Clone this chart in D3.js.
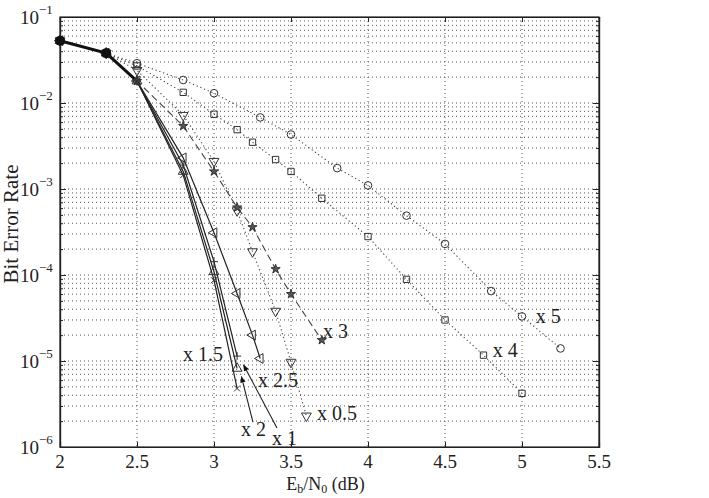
<!DOCTYPE html>
<html>
<head>
<meta charset="utf-8">
<script src="https://cdn.jsdelivr.net/npm/d3@7"></script>
<style>
  body { margin: 0; background: #fff; }
  svg { font-family: "Liberation Serif", "Times New Roman", serif; }
</style>
</head>
<body>
<svg id="chart" width="709" height="498"></svg>
<script>
// Eb/N0 (dB) and bit error rate for each clipping ratio
var x05 = [2, 2.3, 2.5, 2.8, 3.0, 3.15, 3.25, 3.4, 3.5, 3.6]
  , ber05 = [0.053, 0.038, 0.024, 0.0072, 0.0021, 5.6e-4, 1.87e-4, 3.8e-5, 9.7e-6, 2.3e-6]
var x1 = [2, 2.3, 2.5, 2.8, 3.0, 3.15]
  , ber1 = [0.053, 0.038, 0.018, 0.0016, 1.09e-4, 8.2e-6]
var x15 = [2, 2.3, 2.5, 2.8, 3.0, 3.15]
  , ber15 = [0.053, 0.038, 0.018, 0.0019, 1.43e-4, 1.14e-5]
var x2 = [2, 2.3, 2.5, 2.8, 3.0, 3.15]
  , ber2 = [0.053, 0.038, 0.018, 0.00145, 8.7e-5, 4.8e-6]
var x25 = [2, 2.3, 2.5, 2.8, 3.0, 3.15, 3.25, 3.3]
  , ber25 = [0.053, 0.038, 0.018, 0.0023, 3.1e-4, 6.1e-5, 2.0e-5, 1.07e-5]
var x3 = [2, 2.3, 2.5, 2.8, 3.0, 3.15, 3.25, 3.4, 3.5, 3.7]
  , ber3 = [0.053, 0.038, 0.018, 0.0054, 0.0016, 6.1e-4, 3.6e-4, 1.17e-4, 6.0e-5, 1.75e-5]
var x4 = [2, 2.3, 2.5, 2.8, 3.0, 3.15, 3.25, 3.4, 3.5, 3.7, 4.0, 4.25, 4.5, 4.75, 5.0]
  , ber4 = [0.053, 0.038, 0.027, 0.0133, 0.0074, 0.0049, 0.0035, 0.0022, 0.0016, 7.8e-4, 2.8e-4, 8.9e-5, 3.0e-5, 1.17e-5, 4.2e-6]
var x5 = [2, 2.3, 2.5, 2.8, 3.0, 3.3, 3.5, 3.8, 4.0, 4.25, 4.5, 4.8, 5.0, 5.25]
  , ber5 = [0.053, 0.038, 0.029, 0.0185, 0.013, 0.0068, 0.0043, 0.00175, 0.0011, 4.9e-4, 2.3e-4, 6.5e-5, 3.3e-5, 1.4e-5]

// shared start of all curves (drawn heavy)
var trunkX = [2, 2.3, 2.5]
  , trunkBer = [0.053, 0.038, 0.018]

var xTicks = [2, 2.5, 3, 3.5, 4, 4.5, 5, 5.5]
  , yExps = [-1, -2, -3, -4, -5, -6]

// curve labels, placed in data units (x, ber) = left/baseline of text
var labelText = ["x 5", "x 4", "x 3", "x 0.5", "x 2.5", "x 1.5", "x 2", "x 1"]
  , labelX = [5.09, 4.81, 3.708, 3.669, 3.286, 2.799, 3.175, 3.377]
  , labelBer = [2.77e-5, 1.11e-5, 1.85e-5, 2.06e-6, 5.0e-6, 1.0e-5, 1.34e-6, 1.05e-6]

// leader arrows from "x 2" and "x 1"
var arrowFrom = [[3.253, 1.95e-6], [3.409, 1.66e-6]]
  , arrowTo = [[3.178, 6.6e-6], [3.192, 9.0e-6]]

var series = [
  {xs: x5, ys: ber5, mark: "circle", dash: "1.2,2.8", w: 1.1},
  {xs: x4, ys: ber4, mark: "square", dash: "1.2,2.8", w: 1.1},
  {xs: x05, ys: ber05, mark: "tdown", dash: "1.2,2.8", w: 1.1},
  {xs: x3, ys: ber3, mark: "star", dash: "7,4", w: 1.1},
  {xs: x25, ys: ber25, mark: "tleft", dash: null, w: 1.2},
  {xs: x15, ys: ber15, mark: "plus", dash: null, w: 1.2},
  {xs: x1, ys: ber1, mark: "tup", dash: null, w: 1.2},
  {xs: x2, ys: ber2, mark: "cross", dash: null, w: 1.2}
]

var margin = {top: 17, right: 110, bottom: 51, left: 60}
  , width = 709 - margin.left - margin.right
  , height = 498 - margin.top - margin.bottom
  , ink = "#222"

var svg = d3.select("#chart")
var g = svg.append("g").attr("transform", "translate(" + margin.left + "," + margin.top + ")")

var x = d3.scaleLinear().domain([2, 5.5]).range([0, width])
var y = d3.scaleLog().domain([1e-6, 1e-1]).range([height, 0])

// grid
var minorY = []
d3.range(-6, -1).forEach(function(e) {
  d3.range(1, 10).forEach(function(m) { minorY.push(m * Math.pow(10, e)) })
})
minorY = minorY.filter(function(v) { return v > 1.01e-6 })

g.append("g").selectAll("line").data(minorY).enter().append("line")
  .attr("x1", 0).attr("x2", width)
  .attr("y1", function(d) { return y(d) }).attr("y2", function(d) { return y(d) })
  .style("stroke", "#555").style("stroke-width", 1).style("stroke-dasharray", "1,3")

g.append("g").selectAll("line").data(xTicks.slice(1, -1)).enter().append("line")
  .attr("x1", function(d) { return x(d) }).attr("x2", function(d) { return x(d) })
  .attr("y1", 0).attr("y2", height)
  .style("stroke", "#555").style("stroke-width", 1).style("stroke-dasharray", "1,3")

// axes with inward ticks
g.append("g").attr("transform", "translate(0," + height + ")")
  .call(d3.axisBottom(x).tickValues(xTicks).tickSize(-5).tickFormat(""))
g.append("g")
  .call(d3.axisTop(x).tickValues(xTicks).tickSize(-5).tickFormat(""))
g.append("g")
  .call(d3.axisLeft(y).tickValues(minorY.concat([1e-6])).tickSize(-3).tickFormat(""))
g.append("g").attr("transform", "translate(" + width + ",0)")
  .call(d3.axisRight(y).tickValues(minorY.concat([1e-6])).tickSize(-3).tickFormat(""))
g.append("g")
  .call(d3.axisLeft(y).tickValues(yExps.map(function(e) { return Math.pow(10, e) })).tickSize(-6).tickFormat(""))
g.append("g").attr("transform", "translate(" + width + ",0)")
  .call(d3.axisRight(y).tickValues(yExps.map(function(e) { return Math.pow(10, e) })).tickSize(-6).tickFormat(""))
g.selectAll(".domain").style("stroke", ink).style("stroke-width", 1.2)
g.selectAll(".tick line").style("stroke", ink)

g.append("rect").attr("width", width).attr("height", height)
  .style("fill", "none").style("stroke", ink).style("stroke-width", 1.2)

// tick labels
g.append("g").selectAll("text").data(xTicks).enter().append("text")
  .attr("x", function(d) { return x(d) }).attr("y", height + 21)
  .attr("text-anchor", "middle").style("font-size", "19px").style("fill", ink)
  .text(function(d) { return d })

var yl = g.append("g").selectAll("text").data(yExps).enter().append("text")
  .attr("x", -40).attr("y", function(d) { return y(Math.pow(10, d)) + 7 })
  .style("font-size", "19px").style("fill", ink)
yl.append("tspan").text("10")
yl.append("tspan").attr("dy", -10).style("font-size", "13px").text(function(d) { return "\u2212" + (-d) })

// axis titles
g.append("text").attr("transform", "translate(-42," + (height / 2 - 8) + ") rotate(-90)")
  .attr("text-anchor", "middle").style("font-size", "21px").style("fill", ink)
  .text("Bit Error Rate")

var xt = g.append("text").attr("x", x(3.75) - 4).attr("y", height + 43)
  .attr("text-anchor", "middle").style("font-size", "18px").style("fill", ink)
xt.append("tspan").text("E")
xt.append("tspan").attr("dy", 3).style("font-size", "12px").text("b")
xt.append("tspan").attr("dy", -3).text("/N")
xt.append("tspan").attr("dy", 3).style("font-size", "12px").text("0")
xt.append("tspan").attr("dy", -3).text(" (dB)")

// curves
var line = d3.line()
  .x(function(d) { return x(d[0]) })
  .y(function(d) { return y(d[1]) })

series.forEach(function(s) {
  var pts = s.xs.map(function(v, i) { return [v, s.ys[i]] })
  g.append("path").datum(pts).attr("d", line)
    .style("fill", "none").style("stroke", s.dash ? "#444" : ink)
    .style("stroke-width", s.w)
    .style("stroke-dasharray", s.dash)
})

g.append("path").datum(trunkX.map(function(v, i) { return [v, trunkBer[i]] }))
  .attr("d", line).style("fill", "none").style("stroke", "#111").style("stroke-width", 3)

// markers
function markPath(type) {
  if (type == "circle") return d3.symbol(d3.symbolCircle, 46)()
  if (type == "square") return d3.symbol(d3.symbolSquare, 40)()
  if (type == "star") return d3.symbol(d3.symbolStar, 26)()
  if (type == "plus") return "M-4,0H4M0,-4V4"
  if (type == "cross") return "M-3,-3L3,3M-3,3L3,-3"
  return d3.symbol(d3.symbolTriangle, 42)()
}
var rot = {tdown: 180, tleft: -90, tup: 0}

series.forEach(function(s) {
  g.append("g").selectAll("path").data(s.xs.map(function(v, i) { return [v, s.ys[i]] }))
    .enter().append("path")
    .attr("d", markPath(s.mark))
    .attr("transform", function(d) {
      return "translate(" + x(d[0]) + "," + y(d[1]) + ")" + (rot[s.mark] != null ? " rotate(" + rot[s.mark] + ")" : "")
    })
    .style("fill", s.mark == "star" ? "#555" : "none")
    .style("stroke", "#333").style("stroke-width", 1)
})

g.append("g").selectAll("circle").data([0, 1]).enter().append("circle")
  .attr("cx", function(i) { return x(trunkX[i]) }).attr("cy", function(i) { return y(trunkBer[i]) })
  .attr("r", 5).style("fill", "#111")

// labels
g.append("g").selectAll("text").data(labelText).enter().append("text")
  .attr("x", function(d, i) { return x(labelX[i]) })
  .attr("y", function(d, i) { return y(labelBer[i]) })
  .style("font-size", "20px").style("fill", ink)
  .text(function(d) { return d })

svg.append("defs").append("marker").attr("id", "ah")
  .attr("viewBox", "0 0 10 10").attr("refX", 9).attr("refY", 5)
  .attr("markerWidth", 6).attr("markerHeight", 6).attr("orient", "auto")
  .append("path").attr("d", "M0,1L10,5L0,9Z").style("fill", "#111")

g.append("g").selectAll("line").data(arrowFrom).enter().append("line")
  .attr("x1", function(d) { return x(d[0]) }).attr("y1", function(d) { return y(d[1]) })
  .attr("x2", function(d, i) { return x(arrowTo[i][0]) }).attr("y2", function(d, i) { return y(arrowTo[i][1]) })
  .style("stroke", ink).style("stroke-width", 1.1)
  .attr("marker-end", "url(#ah)")
</script>
</body>
</html>
